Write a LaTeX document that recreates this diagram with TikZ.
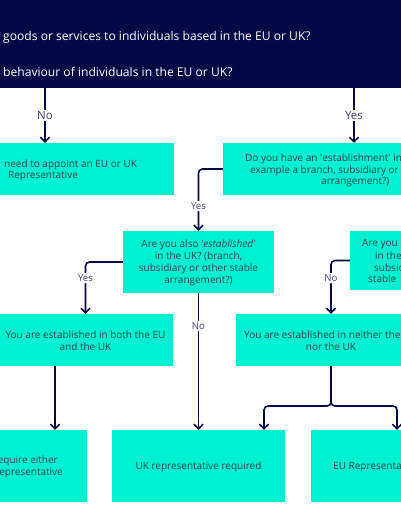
\documentclass[tikz,border=0pt]{standalone}
\usepackage{fontspec}
\setmainfont{Open Sans}
\usetikzlibrary{arrows.meta}
\definecolor{navy}{RGB}{2,10,70}
\definecolor{teal}{RGB}{0,240,210}
\definecolor{boxtext}{RGB}{35,75,85}
\definecolor{lblc}{RGB}{60,65,110}
\begin{document}
\begin{tikzpicture}[x=1pt,y=-1pt,
  box/.style={draw=none, fill=teal, inner sep=0pt},
  btxt/.style={text=boxtext, font=\fontsize{10}{12}\selectfont, inner sep=0pt, align=center},
  ttxt/.style={text=white, font=\fontsize{12.1}{14}\selectfont, inner sep=0pt, anchor=west},
  conn/.style={draw=navy, line width=1.6pt, -{Straight Barb[length=4.5pt,width=9pt]}},
  lbl/.style={fill=white, text=lblc, inner sep=1.5pt, font=\fontsize{9.6}{11}\selectfont},
  biglbl/.style={fill=white, text=lblc, inner sep=1.5pt, font=\fontsize{11.5}{13}\selectfont}]
\useasboundingbox (0,0) rectangle (400,516);
\fill[white] (0,0) rectangle (400,516);
% top banner
\node[box, fill=navy, minimum width=410pt, minimum height=93pt] (top) at (200,41.5) {};
\node[ttxt] (t1) at (3,37) {goods or services to individuals based in the EU or UK?};
\node[ttxt] (t2) at (3,72) {behaviour of individuals in the EU or UK?};
% boxes
\node[box, minimum width=184pt, minimum height=52pt] (nobox) at (82,169) {};
\node[btxt, anchor=west] (nob1) at (4,164.5) {need to appoint an EU or UK};
\node[btxt, anchor=west] (nob2) at (8,176.5) {Representative};
\node[box, minimum width=197pt, minimum height=52pt] (estbox) at (321.5,169) {};
\node[btxt, anchor=west] (est1) at (245,159) {Do you have an \textquotesingle establishment\textquotesingle{} in};
\node[btxt, anchor=west] (est2) at (250,170.5) {example a branch, subsidiary or};
\node[btxt, anchor=west] (est3) at (321,182) {arrangement?)};
\node[box, minimum width=151pt, minimum height=62pt] (ukq) at (198.5,262) {};
\node[btxt] (ukqt) at (198.5,263) {Are you also \textit{\textquotesingle established\textquotesingle}\\in the UK? (branch,\\subsidiary or other stable\\arrangement?)};
\node[box, minimum width=80pt, minimum height=59pt] (euq) at (390,260.5) {};
\node[btxt, anchor=west] (euq1) at (362,244) {Are you};
\node[btxt, anchor=west] (euq2) at (375,256) {in the};
\node[btxt, anchor=west] (euq3) at (374,267.5) {subsid};
\node[btxt, anchor=west] (euq4) at (368,279) {stable};
\node[box, minimum width=175pt, minimum height=52pt] (both) at (85.5,340) {};
\node[btxt] (botht) at (85.5,341) {You are established in both the EU\\and the UK};
\node[box, minimum width=190pt, minimum height=52pt] (neither) at (331,340) {};
\node[btxt, anchor=west] (nei1) at (244,335) {You are established in neither the};
\node[btxt] (nei2) at (331,347) {nor the UK};
\node[box, minimum width=97pt, minimum height=72pt] (reqleft) at (38.5,466) {};
\node[btxt, anchor=east] (rl1) at (58,461) {equire either};
\node[btxt, anchor=east] (rl2) at (63,473) {epresentative};
\node[box, minimum width=173pt, minimum height=72pt] (ukrep) at (198.5,466) {};
\node[btxt] (ukrept) at (198.5,467) {UK representative required};
\node[box, minimum width=172pt, minimum height=72pt] (eurep) at (397,466) {};
\node[btxt, anchor=west] (eurept) at (333,467) {EU Representa};
% helper coordinates
\coordinate (cNo) at (45,0);
\coordinate (cYes) at (354,0);
\coordinate (cLeft) at (55,0);
\coordinate (cUKin) at (264,0);
\coordinate (split) at (331,406);
% connectors
\draw[conn] (top.south -| cNo) -- node[biglbl]{No} (nobox.north -| cNo);
\draw[conn] (top.south -| cYes) -- node[biglbl]{Yes} (estbox.north -| cYes);
\draw[conn, rounded corners=4pt] (estbox.west) -| node[lbl, pos=0.8]{Yes} (ukq.north);
\draw[conn, rounded corners=4pt] (ukq.west) -| node[lbl, pos=0.655]{Yes} (both.north);
\draw[conn] (ukq.south) -- node[lbl, pos=0.24]{No} (ukrep.north);
\draw[conn, rounded corners=4pt] (euq.west) -| node[lbl, pos=0.665]{No} (neither.north);
\draw[conn] (both.south -| cLeft) -- (reqleft.north -| cLeft);
\draw[conn, rounded corners=4pt] (neither.south) -- (split) -| (ukrep.north -| cUKin);
\draw[conn, rounded corners=4pt] (neither.south) -- (split) -| (eurep.north);
\end{tikzpicture}
\end{document}
